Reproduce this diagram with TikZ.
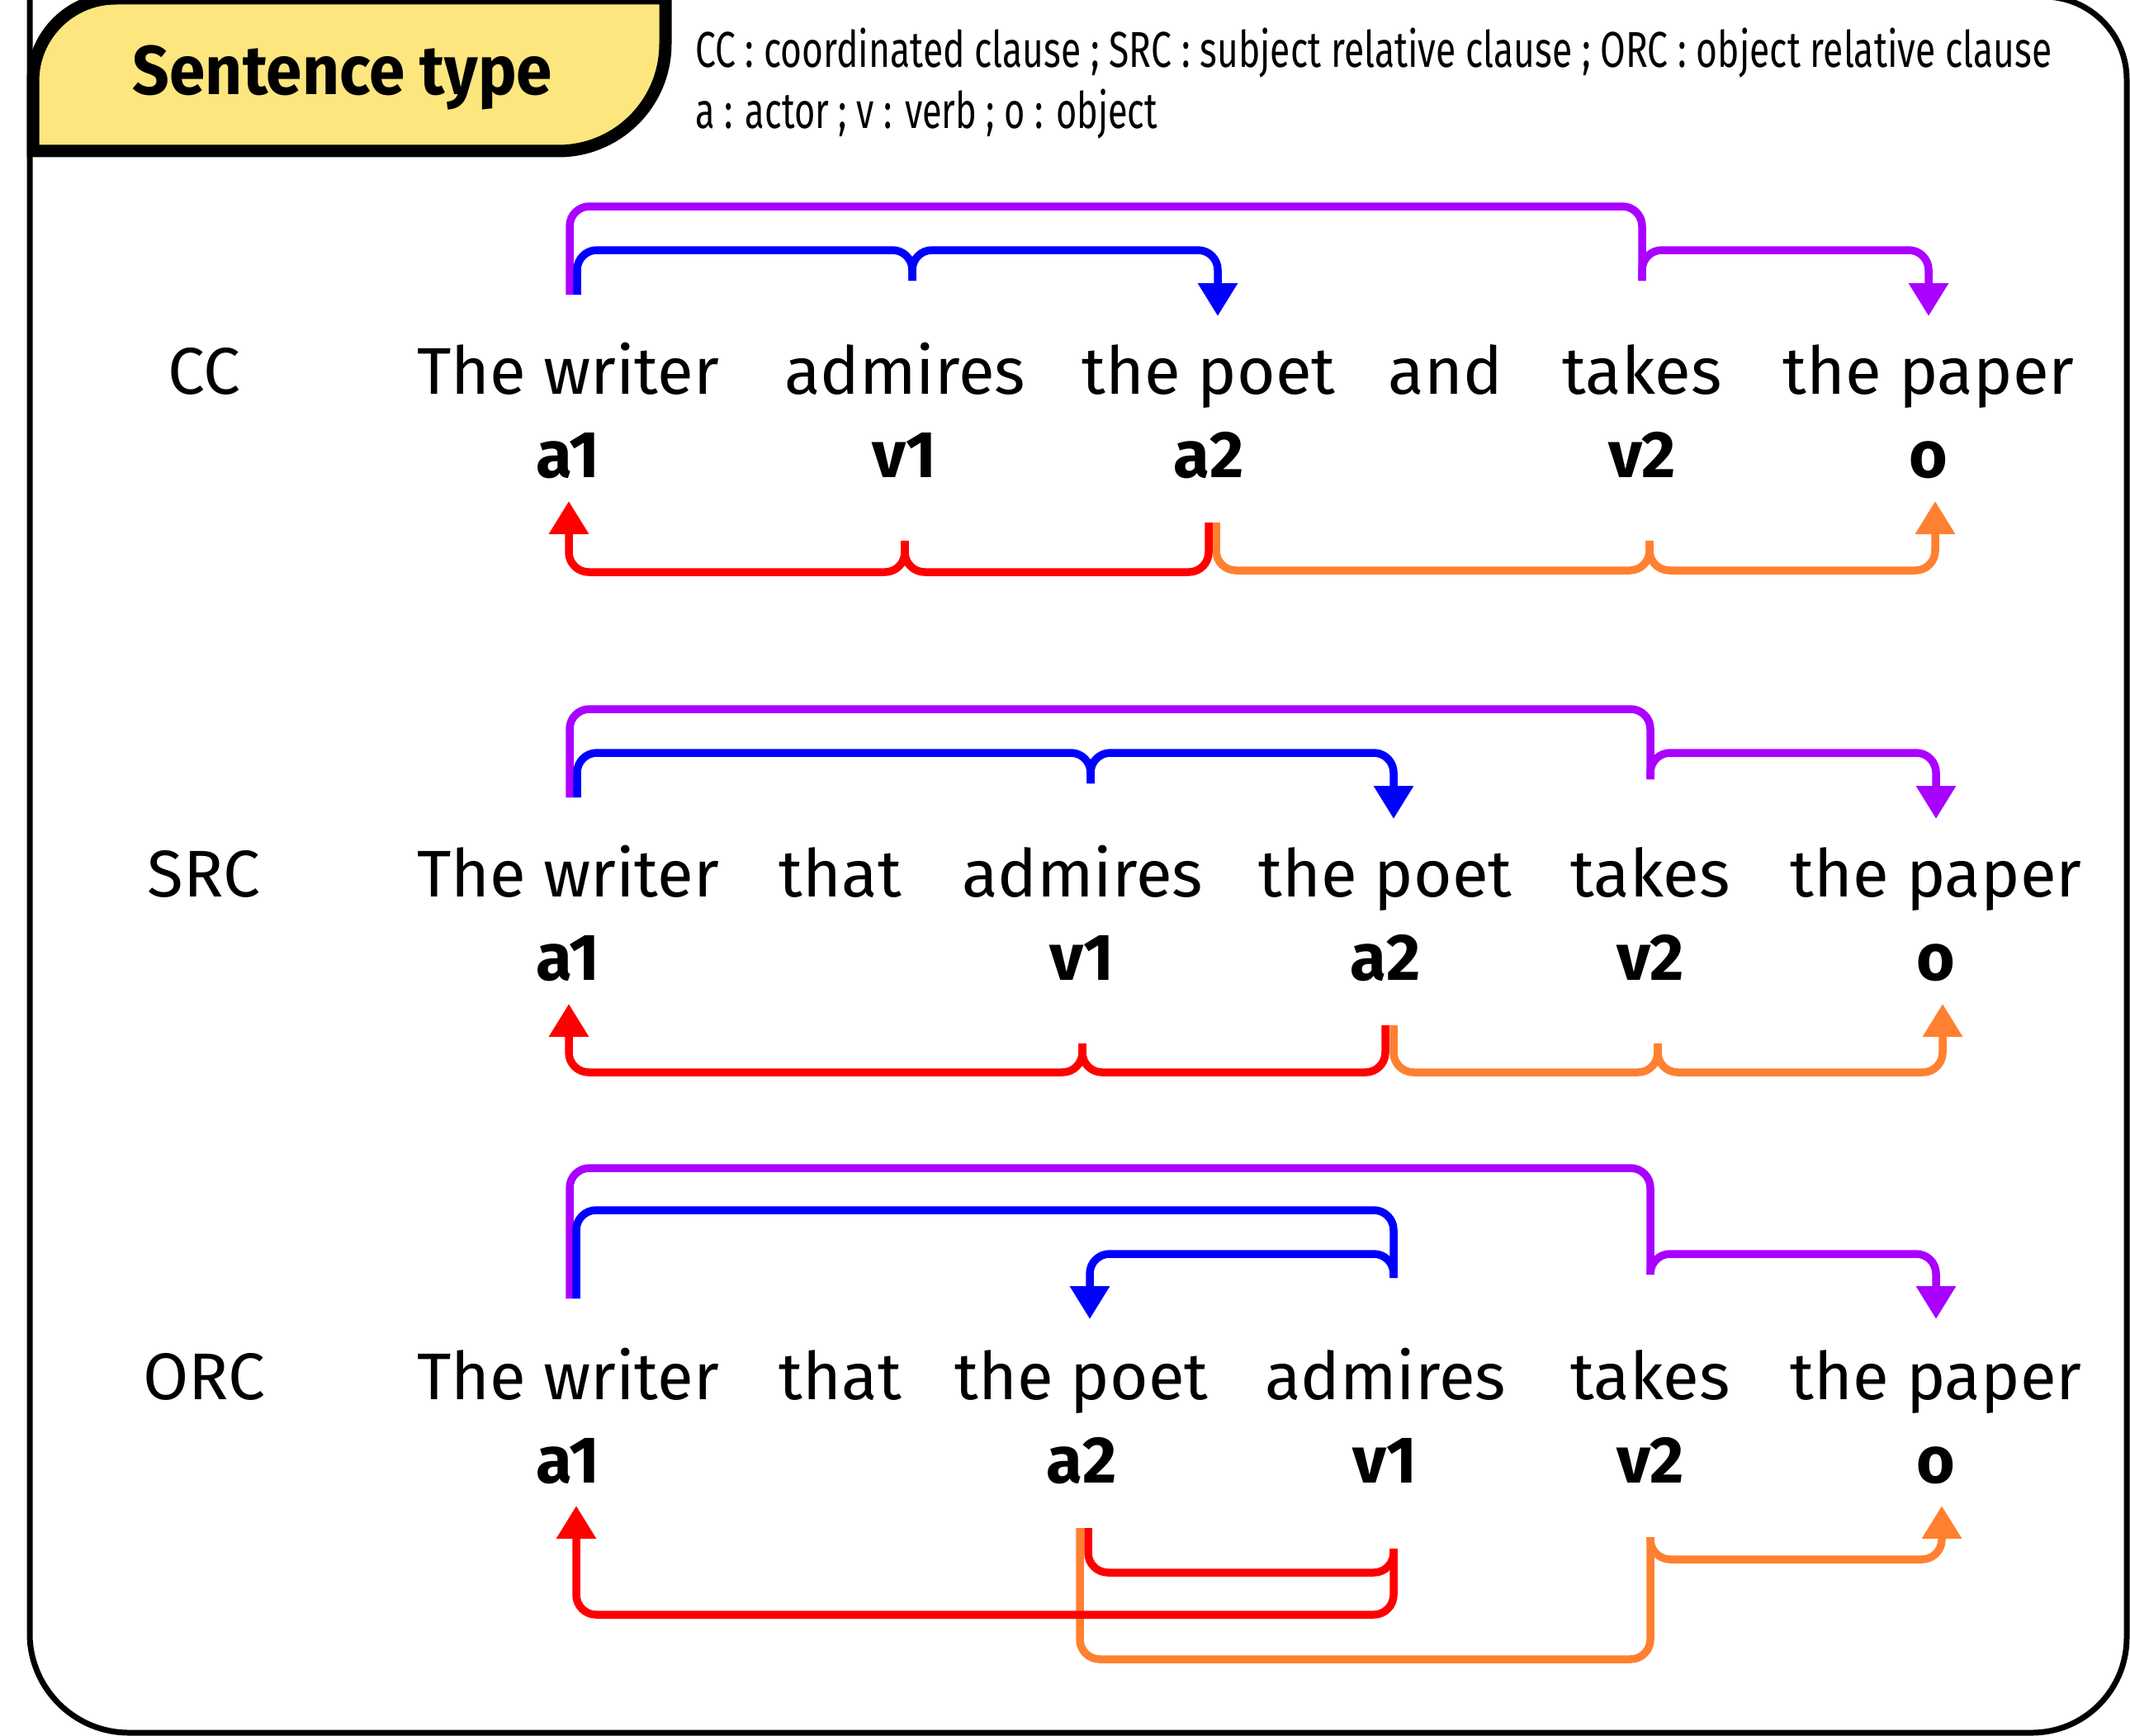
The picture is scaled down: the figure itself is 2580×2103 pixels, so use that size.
\documentclass[tikz,border=0pt]{standalone}
\usepackage{fontspec}
\setmainfont{Fira Sans}
\usepackage{graphicx}
\usepackage{xcolor}
\usetikzlibrary{arrows.meta}

\definecolor{tabyellow}{HTML}{FDE67E}
\definecolor{lpurple}{HTML}{AA00FF}
\definecolor{lblue}{HTML}{0000FF}
\definecolor{lred}{HTML}{FF0000}
\definecolor{lorange}{HTML}{FF8030}

\tikzstyle{word} = [anchor=base, inner sep=0pt, font=\fontsize{80}{96}\selectfont]
\tikzstyle{tag} = [anchor=base, inner sep=0pt, font=\fontsize{80}{96}\selectfont\bfseries]
\tikzstyle{link} = [line width=9.5pt, rounded corners=24pt]
\tikzstyle{arrow} = [link, -{Triangle[length=40pt,width=46pt]}]

\begin{document}
\begin{tikzpicture}[x=1pt, y=-1pt]
    \useasboundingbox (0,0) rectangle (2580,2103);

    % Frame and title tab
    \draw[line width=7pt] (36,-4) -- (2476,-4) .. controls (2531,-4) and (2576,41) .. (2576,96)
        -- (2576,1984) .. controls (2576,2047) and (2525,2099) .. (2461,2099)
        -- (156,2099) .. controls (90,2099) and (36,2045) .. (36,1979) -- cycle;
    \draw[line width=15pt, fill=tabyellow] (40,183) -- (40,98) .. controls (40,43) and (85,-2) .. (140,-2)
        -- (806,-2) -- (806,53) .. controls (806,125) and (748,183) .. (676,183) -- cycle;
    \node[anchor=base, inner sep=0pt, font=\fontsize{84}{100}\selectfont\bfseries] (title) at (415,115)
        {\resizebox{508pt}{\height}{Sentence type}};

    \node[anchor=base west, inner sep=0pt, font=\fontsize{61}{73}\selectfont] (key1) at (842,82)
        {\resizebox{1643pt}{\height}{CC : coordinated clause ; SRC : subject relative clause ; ORC : object relative clause}};
    \node[anchor=base west, inner sep=0pt, font=\fontsize{61}{73}\selectfont] (key2) at (842,156)
        {\resizebox{560pt}{\height}{a : actor ; v : verb ; o : object}};

    % CC
    \node[word] (cc) at (247,477) {CC};
    \node[word] (cc-w1) at (688,477) {The writer};
    \node[word] (cc-w2) at (1096,477) {admires};
    \node[word] (cc-w3) at (1464,477) {the poet};
    \node[word] (cc-w4) at (1751,477) {and};
    \node[word] (cc-w5) at (1989,477) {takes};
    \node[word] (cc-w6) at (2336,477) {the paper};
    \node[tag] (cc-a1) at (688,578) {a1};
    \node[tag] (cc-v1) at (1096,578) {v1};
    \node[tag] (cc-a2) at (1464,578) {a2};
    \node[tag] (cc-v2) at (1989,578) {v2};
    \node[tag] (cc-o) at (2336,578) {o};

    \coordinate (cc-a1p) at (690,357);
    \coordinate (cc-a1b) at (699,357);
    \coordinate (cc-v1b) at (1105,340);
    \coordinate (cc-a2b) at (1475,383);
    \coordinate (cc-v2p) at (1989,340);
    \coordinate (cc-op) at (2336,383);
    \coordinate (cc-a2r) at (1464,633);
    \coordinate (cc-v1r) at (1096,655);
    \coordinate (cc-a1r) at (689,607);
    \coordinate (cc-a2o) at (1473,633);
    \coordinate (cc-v2o) at (1998,655);
    \coordinate (cc-oo) at (2344,607);

    \draw[link, lpurple] (cc-a1p) |- (1989,250) -- (cc-v2p);
    \draw[arrow, lpurple] (cc-v2p) |- (2336,303) -- (cc-op);
    \draw[link, lblue] (cc-a1b) |- (1105,303) -- (cc-v1b);
    \draw[arrow, lblue] (cc-v1b) |- (1475,303) -- (cc-a2b);
    \draw[link, lorange] (cc-a2o) |- (1998,691) -- (cc-v2o);
    \draw[arrow, lorange] (cc-v2o) |- (2344,691) -- (cc-oo);
    \draw[link, lred] (cc-a2r) |- (1096,693) -- (cc-v1r);
    \draw[arrow, lred] (cc-v1r) |- (689,693) -- (cc-a1r);

    % SRC
    \begin{scope}[shift={(0,609)}]
        \node[word] (src) at (247,477) {SRC};
        \node[word] (src-w1) at (688,477) {The writer};
        \node[word] (src-w2) at (1018,477) {that};
        \node[word] (src-w3) at (1311,477) {admires};
        \node[word] (src-w4) at (1678,477) {the poet};
        \node[word] (src-w5) at (1999,477) {takes};
        \node[word] (src-w6) at (2345,477) {the paper};
        \node[tag] (src-a1) at (688,578) {a1};
        \node[tag] (src-v1) at (1311,578) {v1};
        \node[tag] (src-a2) at (1678,578) {a2};
        \node[tag] (src-v2) at (1999,578) {v2};
        \node[tag] (src-o) at (2345,578) {o};

        \coordinate (src-a1p) at (690,357);
        \coordinate (src-a1b) at (699,357);
        \coordinate (src-v1b) at (1321,340);
        \coordinate (src-a2b) at (1688,383);
        \coordinate (src-v2p) at (1999,335);
        \coordinate (src-op) at (2345,383);
        \coordinate (src-a2r) at (1678,633);
        \coordinate (src-v1r) at (1311,655);
        \coordinate (src-a1r) at (689,607);
        \coordinate (src-a2o) at (1688,633);
        \coordinate (src-v2o) at (2008,655);
        \coordinate (src-oo) at (2353,607);

        \draw[link, lpurple] (src-a1p) |- (1999,250) -- (src-v2p);
        \draw[arrow, lpurple] (src-v2p) |- (2345,303) -- (src-op);
        \draw[link, lblue] (src-a1b) |- (1321,303) -- (src-v1b);
        \draw[arrow, lblue] (src-v1b) |- (1688,303) -- (src-a2b);
        \draw[link, lorange] (src-a2o) |- (2008,690) -- (src-v2o);
        \draw[arrow, lorange] (src-v2o) |- (2353,690) -- (src-oo);
        \draw[link, lred] (src-a2r) |- (1311,690) -- (src-v1r);
        \draw[arrow, lred] (src-v1r) |- (689,690) -- (src-a1r);
    \end{scope}

    % ORC
    \begin{scope}[shift={(0,1218)}]
        \node[word] (orc) at (247,477) {ORC};
        \node[word] (orc-w1) at (688,477) {The writer};
        \node[word] (orc-w2) at (1018,477) {that};
        \node[word] (orc-w3) at (1310,477) {the poet};
        \node[word] (orc-w4) at (1678,477) {admires};
        \node[word] (orc-w5) at (1999,477) {takes};
        \node[word] (orc-w6) at (2345,477) {the paper};
        \node[tag] (orc-a1) at (688,578) {a1};
        \node[tag] (orc-a2) at (1310,578) {a2};
        \node[tag] (orc-v1) at (1678,578) {v1};
        \node[tag] (orc-v2) at (1999,578) {v2};
        \node[tag] (orc-o) at (2345,578) {o};

        \coordinate (orc-a1p) at (690,355);
        \coordinate (orc-a1b) at (698,355);
        \coordinate (orc-v1b) at (1688,330);
        \coordinate (orc-a2b) at (1320,380);
        \coordinate (orc-v2p) at (1999,326);
        \coordinate (orc-op) at (2345,380);
        \coordinate (orc-a2r) at (1318,633);
        \coordinate (orc-v1r) at (1688,658);
        \coordinate (orc-a1r) at (698,606);
        \coordinate (orc-a2o) at (1308,633);
        \coordinate (orc-v2o) at (1999,644);
        \coordinate (orc-oo) at (2352,606);

        \draw[link, lpurple] (orc-a1p) |- (1999,197) -- (orc-v2p);
        \draw[arrow, lpurple] (orc-v2p) |- (2345,301) -- (orc-op);
        \draw[link, lblue] (orc-a1b) |- (1688,248) -- (orc-v1b);
        \draw[arrow, lblue] (orc-v1b) |- (1320,301) -- (orc-a2b);
        \draw[link, lorange] (orc-a2o) |- (1999,792) -- (orc-v2o);
        \draw[arrow, lorange] (orc-v2o) |- (2352,671) -- (orc-oo);
        \draw[link, lred] (orc-a2r) |- (1688,687) -- (orc-v1r);
        \draw[arrow, lred] (orc-v1r) |- (698,738) -- (orc-a1r);
    \end{scope}

\end{tikzpicture}
\end{document}
